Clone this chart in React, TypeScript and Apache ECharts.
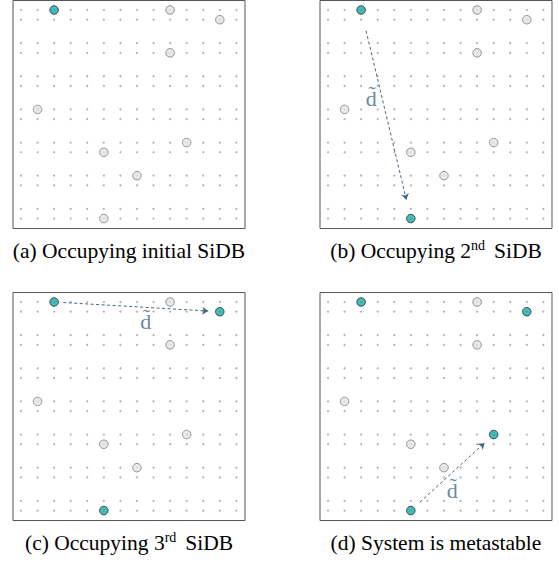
import React, { useEffect, useRef } from "react";
import * as echarts from "echarts";

// Lattice geometry (Å)
const COLS = 14;
const DIMER_PAIRS = 7;
const X_PITCH = 3.84;
const DIMER_GAP = 2.25;
const ROW_PITCH = 7.68;

// SiDB sites as [column, row]
const sidbSites: [number, number][] = [
  [2, 0], [9, 0], [12, 1], [9, 3], [1, 6], [10, 8], [5, 9], [7, 10], [5, 13],
];

// occupied (charged) SiDB indices per panel
const occupiedA = [0];
const occupiedB = [0, 8];
const occupiedC = [0, 2, 8];
const occupiedD = [0, 2, 5, 8];

// arrows per panel: [fromIndex, toIndex] or null
const arrowA: [number, number] | null = null;
const arrowB: [number, number] | null = [0, 8];
const arrowC: [number, number] | null = [0, 2];
const arrowD: [number, number] | null = [8, 5];

const captions = [
  "(a) Occupying initial SiDB",
  "(b) Occupying 2{sup|nd } SiDB",
  "(c) Occupying 3{sup|rd } SiDB",
  "(d) System is metastable",
];

const siteXY = (c: number, r: number): [number, number] => [
  c * X_PITCH,
  Math.floor(r / 2) * ROW_PITCH + (r % 2) * DIMER_GAP,
];

const TEAL = "#19aaa6";
const ARROW = "#46657f";
const SERIF = "'Liberation Serif', 'Times New Roman', 'DejaVu Serif', serif";

export default function App() {
  const ref = useRef<HTMLDivElement>(null);
  useEffect(() => {
    const chart = echarts.init(ref.current!, undefined, { renderer: "svg" });

    const panels = [
      { left: 13, top: 0.5, occ: occupiedA, arrow: arrowA, trim: [0, 1], lab: [0, 0] },
      { left: 320, top: 0.5, occ: occupiedB, arrow: arrowB, trim: [0.1, 0.91], lab: [-15, -17] },
      { left: 13, top: 292.5, occ: occupiedC, arrow: arrowC, trim: [0.055, 0.93], lab: [10, 15] },
      { left: 320, top: 292.5, occ: occupiedD, arrow: arrowD, trim: [0.11, 0.89], lab: [0, 18] },
    ];
    const W = 232;
    const H = 228;

    const lattice: [number, number][] = [];
    for (let r = 0; r < DIMER_PAIRS * 2; r++)
      for (let c = 0; c < COLS; c++) lattice.push(siteXY(c, r));

    const grid: any[] = [];
    const xAxis: any[] = [];
    const yAxis: any[] = [];
    const series: any[] = [];
    const title: any[] = [];

    panels.forEach((p, i) => {
      grid.push({
        left: p.left, top: p.top, width: W, height: H,
        show: true, borderColor: "#555", borderWidth: 1, backgroundColor: "#fff",
      });
      xAxis.push({ type: "value", gridIndex: i, min: -1.85, max: 51.92, show: false });
      yAxis.push({ type: "value", gridIndex: i, min: -2.2, max: 50.64, inverse: true, show: false });
      series.push({
        type: "scatter", xAxisIndex: i, yAxisIndex: i, silent: true,
        symbolSize: 2, itemStyle: { color: "#9a9a9a" }, data: lattice, z: 1,
      });
      const grey = sidbSites.filter((_, k) => !p.occ.includes(k)).map(([c, r]) => siteXY(c, r));
      const teal = sidbSites.filter((_, k) => p.occ.includes(k)).map(([c, r]) => siteXY(c, r));
      series.push({
        type: "scatter", xAxisIndex: i, yAxisIndex: i, silent: true, symbolSize: 8.5,
        itemStyle: { color: "#e4e4e4", borderColor: "#7a7a7a", borderWidth: 1 }, data: grey, z: 3,
      });
      series.push({
        type: "scatter", xAxisIndex: i, yAxisIndex: i, silent: true, symbolSize: 8.5,
        itemStyle: { color: TEAL, borderColor: "#1c2a2a", borderWidth: 1 }, data: teal, z: 4,
      });
      if (p.arrow) {
        const a = siteXY(...sidbSites[p.arrow[0]]);
        const b = siteXY(...sidbSites[p.arrow[1]]);
        const lerp = (t: number): [number, number] => [a[0] + (b[0] - a[0]) * t, a[1] + (b[1] - a[1]) * t];
        const s = lerp(p.trim[0]);
        const e = lerp(p.trim[1]);
        series.push({
          type: "lines", coordinateSystem: "cartesian2d", xAxisIndex: i, yAxisIndex: i,
          silent: true, z: 2,
          symbol: ["none", "arrow"], symbolSize: 6,
          lineStyle: { color: ARROW, width: 1, type: [3, 2.5], opacity: 1 },
          data: [{ coords: [s, e] }],
        });
        series.push({
          type: "scatter", xAxisIndex: i, yAxisIndex: i, silent: true, symbolSize: 0, z: 5,
          data: [lerp((p.trim[0] + p.trim[1]) / 2)],
          label: {
            show: true, position: "inside", offset: p.lab, formatter: "d\u0303",
            fontFamily: SERIF, fontSize: 22, color: ARROW,
          },
        });
      }
      title.push({
        text: captions[i],
        left: p.left + W / 2,
        top: p.top + H + 10,
        textAlign: "center",
        padding: 0,
        textStyle: {
          fontFamily: SERIF, fontSize: 21.5, fontWeight: "normal", color: "#000", lineHeight: 24,
          rich: {
            sup: { fontFamily: SERIF, fontSize: 14, lineHeight: 14, verticalAlign: "top", color: "#000" },
          },
        },
      });
    });

    chart.setOption({
      animation: false,
      backgroundColor: "#fff",
      title, grid, xAxis, yAxis, series,
    });
    return () => chart.dispose();
  }, []);
  return <div ref={ref} style={{ position: "fixed", left: 0, top: 0, width: 559, height: 562 }} />;
}
